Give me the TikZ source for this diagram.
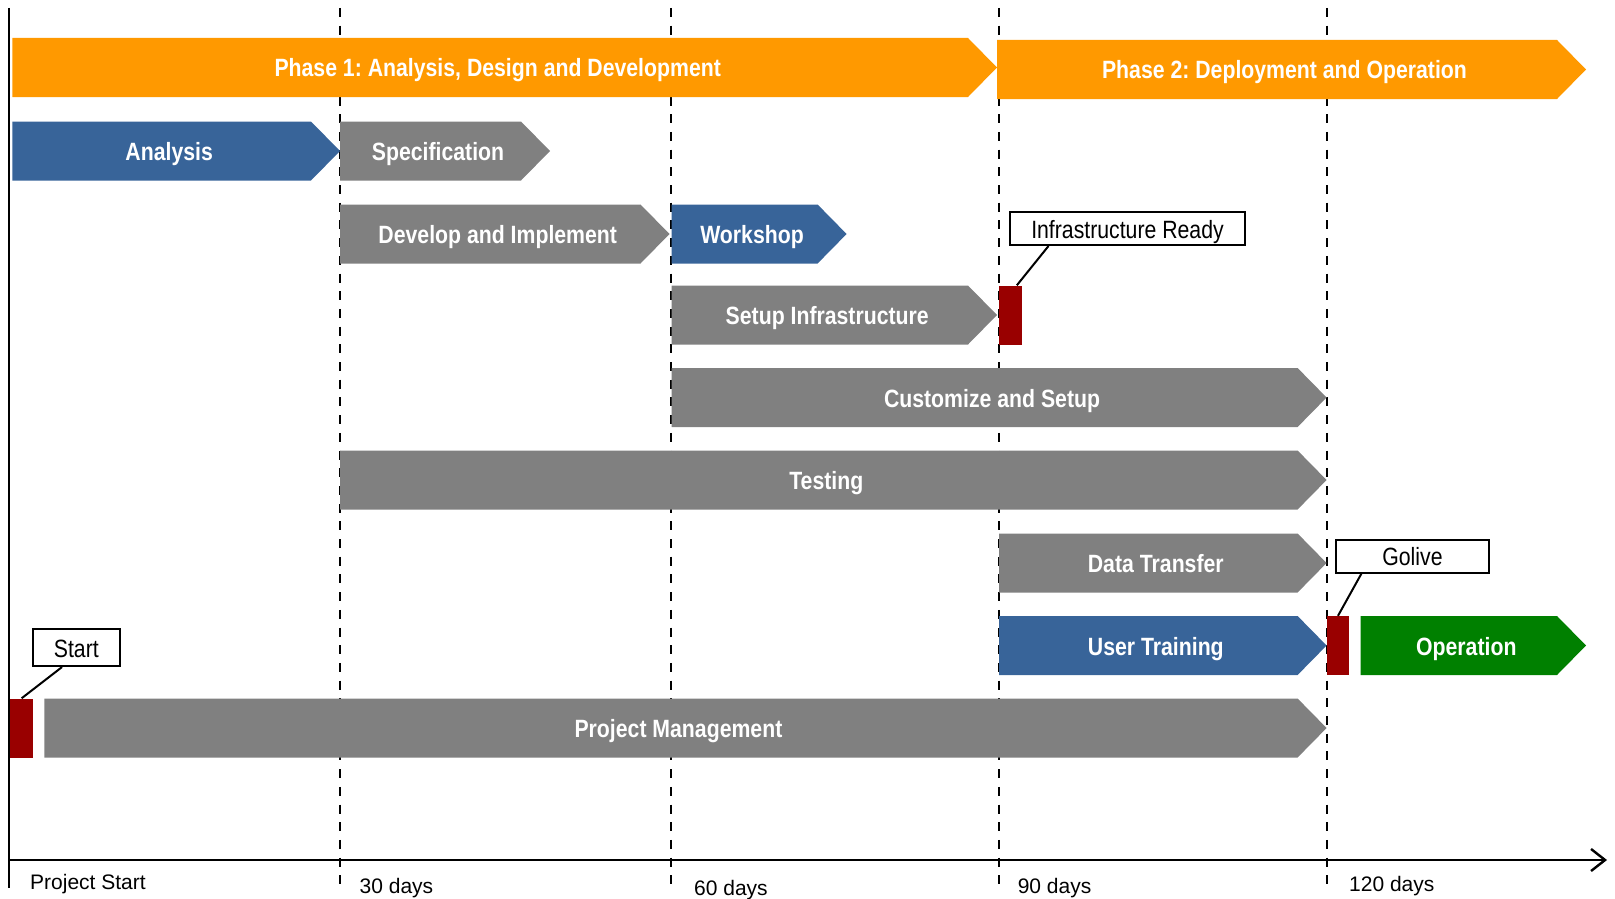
\documentclass[tikz,border=0pt]{standalone}
\usepackage{fontspec}
\setmainfont{Liberation Sans}
\newfontfamily\chartfont[FakeStretch=0.85]{Liberation Sans}
\usetikzlibrary{arrows.meta}
\frenchspacing
\definecolor{barorange}{RGB}{255,153,0}
\definecolor{barblue}{RGB}{56,100,153}
\definecolor{bargray}{RGB}{128,128,128}
\definecolor{bargreen}{RGB}{0,128,0}
\definecolor{markred}{RGB}{153,0,0}
\tikzset{
  bartext/.style={text=white,inner sep=0pt,text height=19pt,text depth=0pt,font=\chartfont\bfseries\fontsize{25}{30}\selectfont},
  callout/.style={draw=black,line width=2pt,fill=white,inner sep=0pt,text height=19pt,text depth=0pt,font=\chartfont\fontsize{25}{30}\selectfont},
  milestone/.style={fill=markred,inner sep=0pt,minimum width=22.5pt,minimum height=59pt},
  daylabel/.style={anchor=base west,inner sep=0pt,font=\fontsize{21}{25}\selectfont},
  timeline/.style={black,line width=2.6pt,dash pattern=on 9pt off 8.7pt}
}
\begin{document}
\begin{tikzpicture}[x=1pt,y=-1pt]
\useasboundingbox (0,0) rectangle (1615,899);
\foreach \x in {340,671,999,1327} \draw[timeline] (\x,8) -- (\x,888);
\draw[line width=2.4pt] (9,8) -- (9,888);
\draw[line width=2.4pt,-{Straight Barb[length=14pt,width=22pt]}] (8,860) -- (1607,860);
\foreach \n/\l/\r/\y/\c/\t in {
  phaseone/12.4/997/67.5/barorange/{Phase 1: Analysis, Design and Development},
  phasetwo/997/1586/69.5/barorange/{Phase 2: Deployment and Operation},
  analysis/12.4/340/151/barblue/Analysis,
  spec/340/550/151/bargray/Specification,
  devimpl/340/669.5/234/bargray/{Develop and Implement},
  workshop/671.5/846.6/234/barblue/Workshop,
  setupinf/671.5/997/315/bargray/{Setup Infrastructure},
  custom/671.5/1326.6/397.5/bargray/{Customize and Setup},
  testing/340/1326.6/480/bargray/Testing,
  datatrans/999/1326.6/563/bargray/{Data Transfer},
  training/999/1326.6/645.5/barblue/{User Training},
  operation/1360.6/1586/645.5/bargreen/Operation,
  projmgmt/44.3/1326.6/728/bargray/{Project Management}}{
  \fill[\c] (\l,{\y-29.5}) -- ({\r-29},{\y-29.5}) -- (\r,\y) -- ({\r-29},{\y+29.5}) -- (\l,{\y+29.5}) -- cycle;
  \node[bartext] (\n) at ({(\l+\r)/2-7},\y) {\t};
}
\node[milestone] (startmark) at (21.6,728) {};
\node[milestone] (infmark) at (1010.4,315) {};
\node[milestone] (golmark) at (1338,645.5) {};
\node[callout,minimum width=86.5pt,minimum height=37pt] (startbox) at (76.3,647.5) {Start};
\node[callout,minimum width=235pt,minimum height=33pt] (infbox) at (1127.5,228.5) {Infrastructure Ready};
\node[callout,minimum width=153pt,minimum height=33pt] (golbox) at (1412.5,556) {Golive};
\draw[line width=2pt] ([xshift=30pt]startbox.south west) -- (startmark.north);
\draw[line width=2pt] ([xshift=39.5pt]infbox.south west) -- ([xshift=-5pt]infmark.north east);
\draw[line width=2pt] ([xshift=26.5pt]golbox.south west) -- (golmark.north);
\node[daylabel] (lblstart) at (30,889) {Project Start};
\node[daylabel] (lbl30) at (359.5,893) {30 days};
\node[daylabel] (lbl60) at (694,895) {60 days};
\node[daylabel] (lbl90) at (1017.6,893) {90 days};
\node[daylabel] (lbl120) at (1349,891) {120 days};
\end{tikzpicture}
\end{document}
